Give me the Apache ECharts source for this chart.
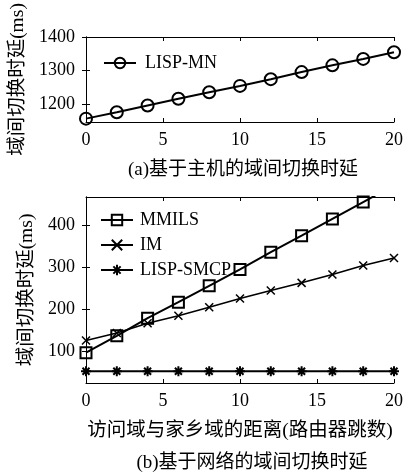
<!DOCTYPE html>
<html><head><meta charset="utf-8">
<script src="https://cdn.jsdelivr.net/npm/echarts@6/dist/echarts.min.js"></script>
<style>html,body{margin:0;padding:0;background:#fff}#c{width:406px;height:473px}</style>
</head><body><div id="c"></div>
<script>
const hops = [0, 2, 4, 6, 8, 10, 12, 14, 16, 18, 20];
const lispMN = [1158, 1177, 1197, 1217, 1236, 1255, 1275, 1296, 1316, 1335, 1355];
const mmils = [97, 137, 179, 217, 256, 295, 336, 375, 415, 455, 495];
const im = [126, 144, 167, 185, 205, 226, 245, 263, 283, 304, 322];
const lispSMCP = [53, 53, 53, 53, 53, 53, 53, 53, 53, 53, 53];
const xTicks = [0, 5, 10, 15, 20];
const yTicksA = [1200, 1300, 1400];
const yTicksB = [100, 200, 300, 400];
const yNameA = '域间切换时延(ms)';
const yNameB = '域间切换时延(ms)';
const xNameB = '访问域与家乡域的距离(路由器跳数)';
const titleA = '(a)基于主机的域间切换时延';
const titleB = '(b)基于网络的域间切换时延';

const FONT = "'Liberation Serif','Noto Sans CJK SC',serif";
const pairs = arr => hops.map((x, i) => [x, arr[i]]);
const lineAx = {show: true, lineStyle: {color: '#000', width: 1}};
const tick = {show: true, inside: true, length: 4, lineStyle: {color: '#000', width: 1}};
const plain = v => String(v);

function xAx(grid, showLabel, pos, name) {
  return {
    type: 'value', gridIndex: grid, min: 0, max: 20, position: pos,
    axisLine: lineAx, splitLine: {show: false},
    axisTick: Object.assign({}, tick, {customValues: xTicks}),
    axisLabel: {show: showLabel, customValues: xTicks, formatter: plain, color: '#000', fontSize: 18, fontFamily: FONT, margin: 9},
    name: name || '', nameLocation: 'middle', nameGap: 38,
    nameTextStyle: {color: '#000', fontSize: 19.5, fontFamily: FONT}
  };
}
function yAx(grid, min, max, ticks, showLabel, pos, name) {
  return {
    type: 'value', gridIndex: grid, min: min, max: max, position: pos,
    axisLine: lineAx, splitLine: {show: false},
    axisTick: Object.assign({}, tick, {customValues: ticks}),
    axisLabel: {show: showLabel, customValues: ticks, formatter: plain, color: '#000', fontSize: 18, fontFamily: FONT, margin: 11},
    name: name || '', nameLocation: 'middle', nameGap: 44, nameRotate: 90,
    nameTextStyle: {color: '#000', fontSize: 19.5, fontFamily: FONT}
  };
}
const ln = {color: '#000', width: 2};
const hollow = {color: 'rgba(0,0,0,0)', borderColor: '#000', borderWidth: 2};
const crossPath = 'path://M0,0L10,10M10,0L0,10';
const starPath = 'path://M5,0L5,10M0,5L10,5M1.5,1.5L8.5,8.5M8.5,1.5L1.5,8.5';
const titleStyle = {fontSize: 19, fontWeight: 'normal', color: '#000', fontFamily: FONT};

const option = {
  animation: false,
  backgroundColor: '#fff',
  textStyle: {fontFamily: FONT},
  title: [
    {text: titleA, left: 243, top: 161, padding: 0, textAlign: 'center', textStyle: titleStyle},
    {text: titleB, left: 252, top: 454, padding: 0, textAlign: 'center', textStyle: titleStyle}
  ],
  grid: [
    {left: 86, right: 8, top: 37, height: 85},
    {left: 86, right: 8, top: 197, height: 186}
  ],
  xAxis: [
    xAx(0, true, 'bottom'), xAx(0, false, 'top'),
    xAx(1, true, 'bottom', xNameB), xAx(1, false, 'top')
  ],
  yAxis: [
    yAx(0, 1148, 1400, yTicksA, true, 'left', yNameA), yAx(0, 1148, 1400, yTicksA, false, 'right'),
    yAx(1, 25, 467, yTicksB, true, 'left', yNameB), yAx(1, 25, 467, yTicksB, false, 'right')
  ],
  legend: [
    {data: ['LISP-MN'], left: 98, top: 49, itemWidth: 32, itemHeight: 13,
     textStyle: {fontSize: 18, color: '#000', fontFamily: FONT, padding: [0, 0, 0, 4]}},
    {data: ['MMILS', 'IM', 'LISP-SMCP'], orient: 'vertical', left: 95, top: 206, itemWidth: 32, itemHeight: 13, itemGap: 7,
     textStyle: {fontSize: 18, color: '#000', fontFamily: FONT, padding: [0, 0, 0, 2]}}
  ],
  series: [
    {name: 'LISP-MN', type: 'line', xAxisIndex: 0, yAxisIndex: 0, data: pairs(lispMN),
     symbol: 'circle', symbolSize: 12, lineStyle: ln, itemStyle: hollow, clip: true},
    {name: 'MMILS', type: 'line', xAxisIndex: 2, yAxisIndex: 2, data: pairs(mmils),
     symbol: 'rect', symbolSize: 11, lineStyle: ln, itemStyle: hollow, clip: true},
    {name: 'IM', type: 'line', xAxisIndex: 2, yAxisIndex: 2, data: pairs(im),
     symbol: crossPath, symbolSize: 8, lineStyle: {color: '#000', width: 1.6},
     itemStyle: {color: 'rgba(0,0,0,0)', borderColor: '#000', borderWidth: 1.5}, clip: true},
    {name: 'LISP-SMCP', type: 'line', xAxisIndex: 2, yAxisIndex: 2, data: pairs(lispSMCP),
     symbol: starPath, symbolSize: 10, lineStyle: ln,
     itemStyle: {color: 'rgba(0,0,0,0)', borderColor: '#000', borderWidth: 2}, clip: true}
  ]
};
echarts.init(document.getElementById('c'), null, {renderer: 'canvas'}).setOption(option);
</script></body></html>
